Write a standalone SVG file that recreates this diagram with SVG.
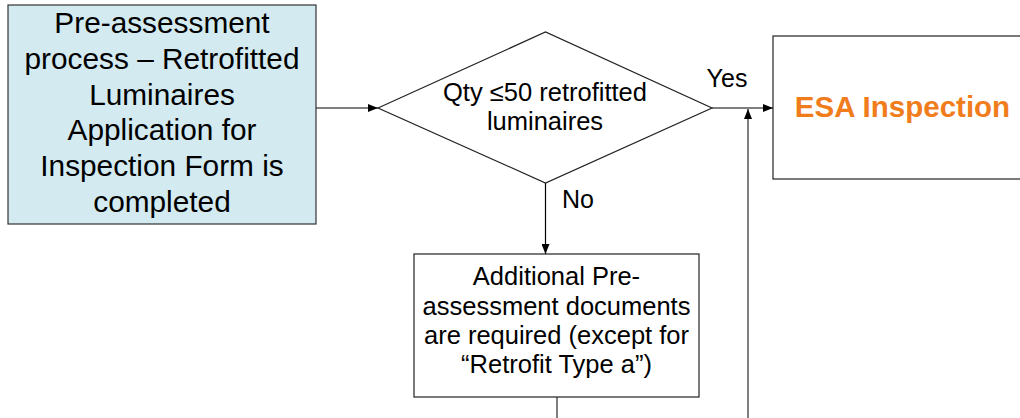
<svg xmlns="http://www.w3.org/2000/svg" width="1020" height="418" viewBox="0 0 1020 418">
<defs>
<marker id="arr" viewBox="0 0 10 8" refX="10" refY="4" markerWidth="10" markerHeight="8" markerUnits="userSpaceOnUse" orient="auto">
<path d="M0,0 L10,4 L0,8 Z" fill="#000"/>
</marker>
</defs>
<style>
text{font-family:"Liberation Sans",Arial,sans-serif;fill:#000;text-anchor:middle}
.big{font-size:29.8px}
.mid{font-size:25.5px}
.lbl{font-size:25px}
.esa{font-size:29.5px;font-weight:bold;fill:#f07c1c}
.box{fill:#fff;stroke:#222;stroke-width:1.2}
.conn{fill:none;stroke:#000;stroke-width:1.2}
.grey{fill:none;stroke:#555;stroke-width:1.5}
</style>
<rect width="1020" height="418" fill="#fff"/>
<g id="connectors">
<line class="conn" x1="316" y1="108" x2="378" y2="108" marker-end="url(#arr)"/>
<line class="conn" x1="712" y1="108" x2="773" y2="108" marker-end="url(#arr)"/>
<line class="conn" x1="545.5" y1="183" x2="545.5" y2="254" marker-end="url(#arr)"/>
<line class="grey" x1="557" y1="397" x2="557" y2="418"/>
<line class="grey" x1="748" y1="418" x2="748" y2="109" marker-end="url(#arr)"/>
<text class="lbl" x="727" y="87">Yes</text>
<text class="lbl" x="578" y="208">No</text>
</g>
<g id="start">
<rect x="8" y="5" width="308" height="219" fill="#d2eaf0" stroke="#333" stroke-width="1.2"/>
<text class="big" x="162" y="33">Pre-assessment</text>
<text class="big" x="162" y="69">process – Retrofitted</text>
<text class="big" x="162" y="105">Luminaires</text>
<text class="big" x="162" y="140">Application for</text>
<text class="big" x="162" y="176">Inspection Form is</text>
<text class="big" x="162" y="212">completed</text>
</g>
<g id="decision">
<polygon class="box" points="378,108 545.5,32 712,108 545.5,183"/>
<text class="mid" x="545" y="101">Qty ≤50 retrofitted</text>
<text class="mid" x="545" y="130">luminaires</text>
</g>
<g id="esa">
<rect class="box" x="773" y="36" width="258" height="143"/>
<text class="esa" x="902.5" y="117">ESA Inspection</text>
</g>
<g id="additional">
<rect class="box" x="414" y="254" width="285" height="143"/>
<text class="mid" x="556.5" y="285">Additional Pre-</text>
<text class="mid" x="556.5" y="315">assessment documents</text>
<text class="mid" x="556.5" y="344">are required (except for</text>
<text class="mid" x="556.5" y="373">“Retrofit Type a”)</text>
</g>
</svg>
